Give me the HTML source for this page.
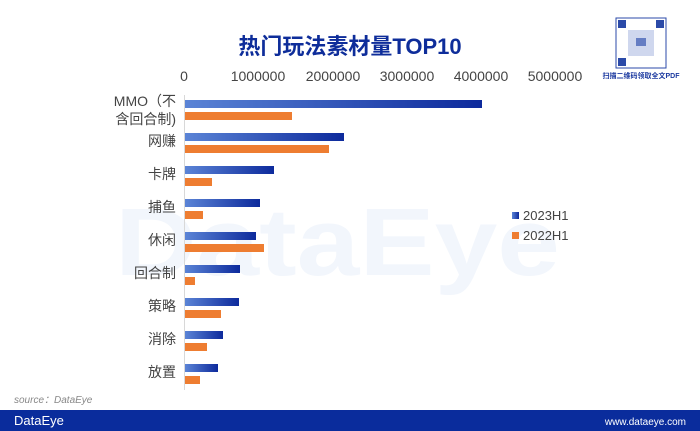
<!DOCTYPE html><html><head><meta charset="utf-8"><style>
body{margin:0;width:700px;height:431px;background:#fff;overflow:hidden;font-family:"Liberation Sans","Noto Sans CJK SC",sans-serif;position:relative}
</style></head><body>
<svg width="700" height="431" style="position:absolute;left:0;top:0" font-family="Liberation Sans, Noto Sans CJK SC, sans-serif">
<defs><linearGradient id="g" x1="0" x2="1"><stop offset="0" stop-color="#5b84d6"/><stop offset="1" stop-color="#0d2a9c"/></linearGradient></defs>
<text x="115" y="275" font-size="96" font-weight="bold" fill="#f2f6fc" textLength="445" lengthAdjust="spacingAndGlyphs">DataEye</text>
<text x="350" y="54" font-size="22" font-weight="bold" fill="#0e2d9a" text-anchor="middle">热门玩法素材量TOP10</text>
<g font-size="14" fill="#444" text-anchor="middle">
<text x="184" y="81">0</text><text x="258" y="81">1000000</text><text x="333" y="81">2000000</text><text x="407" y="81">3000000</text><text x="481" y="81">4000000</text><text x="555" y="81">5000000</text></g>
<line x1="184.5" y1="95" x2="184.5" y2="390" stroke="#d8d8d8"/>
<g fill="url(#g)">
<rect x="185" y="100" width="297" height="8"/><rect x="185" y="133" width="159" height="8"/><rect x="185" y="166" width="89" height="8"/><rect x="185" y="199" width="75" height="8"/><rect x="185" y="232" width="71" height="8"/><rect x="185" y="265" width="55" height="8"/><rect x="185" y="298" width="54" height="8"/><rect x="185" y="331" width="38" height="8"/><rect x="185" y="364" width="33" height="8"/></g>
<g fill="#ee7d31">
<rect x="185" y="112" width="107" height="8"/><rect x="185" y="145" width="144" height="8"/><rect x="185" y="178" width="27" height="8"/><rect x="185" y="211" width="18" height="8"/><rect x="185" y="244" width="79" height="8"/><rect x="185" y="277" width="10" height="8"/><rect x="185" y="310" width="36" height="8"/><rect x="185" y="343" width="22" height="8"/><rect x="185" y="376" width="15" height="8"/></g>
<g font-size="14" fill="#444" text-anchor="end">
<text x="176" y="106">MMO（不</text><text x="176" y="124">含回合制)</text>
<text x="176" y="146">网赚</text><text x="176" y="179">卡牌</text><text x="176" y="212">捕鱼</text><text x="176" y="245">休闲</text><text x="176" y="278">回合制</text><text x="176" y="311">策略</text><text x="176" y="344">消除</text><text x="176" y="377">放置</text></g>
<rect x="512" y="212" width="7" height="7" fill="url(#g)"/><text x="523" y="220" font-size="13" fill="#444">2023H1</text>
<rect x="512" y="232" width="7" height="7" fill="#ee7d31"/><text x="523" y="240" font-size="13" fill="#444">2022H1</text>
<rect x="616" y="18" width="50" height="50" fill="#fff" stroke="#2b4aa8" stroke-width="1"/>
<g fill="#2b4aa8"><rect x="618" y="20" width="8" height="8"/><rect x="656" y="20" width="8" height="8"/><rect x="618" y="58" width="8" height="8"/><rect x="636" y="38" width="10" height="8"/></g>
<rect x="628" y="30" width="26" height="26" fill="#9fb0dd" opacity="0.5"/>
<text x="641" y="78" font-size="7" fill="#1c3aa0" text-anchor="middle" font-weight="bold">扫描二维码领取全文PDF</text>
<text x="14" y="403" font-size="10" font-style="italic" fill="#888">source：DataEye</text>
<rect x="0" y="410" width="700" height="21" fill="#0a2c9c"/>
<text x="14" y="425" font-size="13" fill="#fff">DataEye</text>
<text x="686" y="425" font-size="10" fill="#fff" text-anchor="end">www.dataeye.com</text>
</svg></body></html>
